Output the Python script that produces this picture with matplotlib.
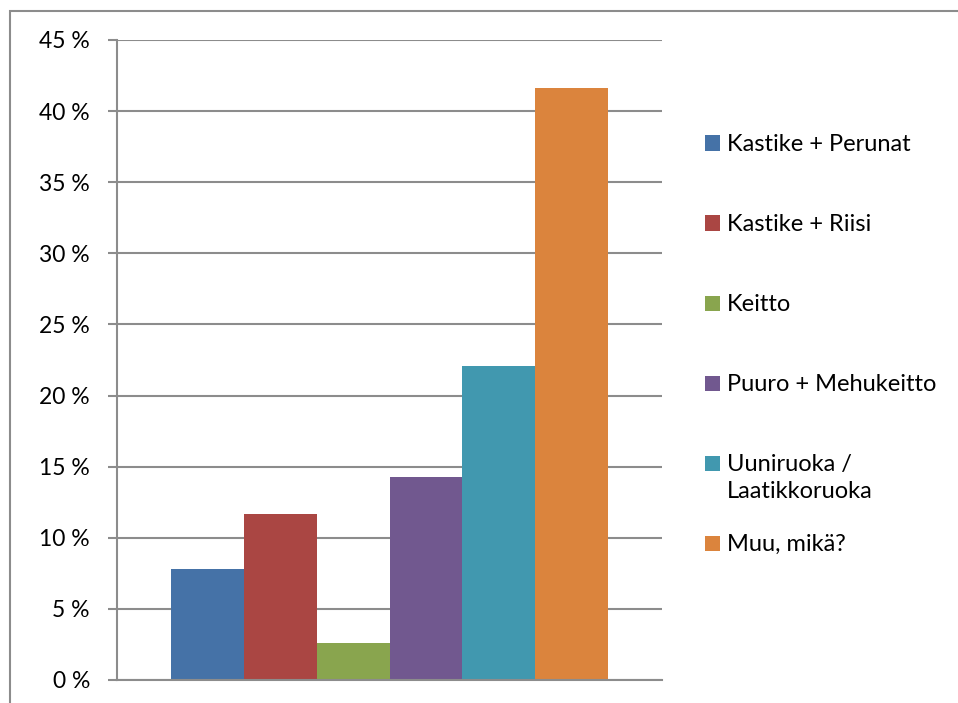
import matplotlib
matplotlib.use("Agg")
import matplotlib.pyplot as plt
from matplotlib.patches import Rectangle
from matplotlib.ticker import FuncFormatter

# Vastausvaihtoehdot ja osuudet (%)
categories = ["Kastike + Perunat", "Kastike + Riisi", "Keitto",
              "Puuro + Mehukeitto", "Uuniruoka /\nLaatikkoruoka", "Muu, mikä?"]
values = [7.8, 11.7, 2.6, 14.3, 22.1, 41.6]
colors = ["#4572A7", "#AA4643", "#89A54E", "#71588F", "#4198AF", "#DB843D"]
y_ticks = list(range(0, 46, 5))

W, H = 958, 703
fig = plt.figure(figsize=(W / 100, H / 100), dpi=100)
font = "Lato"
grid_col = "#8c8c8c"

# Outer chart frame
fig.patches.append(Rectangle((10 / W, -0.1), 1.2, (H - 11) / H + 0.1,
                             transform=fig.transFigure, fill=False,
                             edgecolor=grid_col, linewidth=1.5))

ax = fig.add_axes([117 / W, (H - 680) / H, (662 - 117) / W, (680 - 40) / H])
x = list(range(len(values)))
ax.bar(x, values, width=1.0, color=colors, linewidth=0, zorder=3)

gap = 54 / 72.8
ax.set_xlim(-0.5 - gap, len(values) - 0.5 + gap)
ax.set_ylim(0, 45)
ax.set_yticks(y_ticks)
ax.yaxis.set_major_formatter(FuncFormatter(lambda v, p: f"{v:.0f} %"))
ax.set_xticks([])
ax.grid(axis="y", color=grid_col, linewidth=1.5, zorder=0)
for s in ["top", "right"]:
    ax.spines[s].set_visible(False)
for s in ["left", "bottom"]:
    ax.spines[s].set_color(grid_col)
    ax.spines[s].set_linewidth(1.5)
    ax.spines[s].set_zorder(4)
ax.tick_params(axis="y", length=6.5, width=1.5, color=grid_col, pad=13,
               labelsize=16.5)
for lab in ax.get_yticklabels():
    lab.set_fontfamily(font)

# Legend entries down the right side
top = 143
for i, (name, col) in enumerate(zip(categories, colors)):
    yc = top + 80 * i
    fig.patches.append(Rectangle((705 / W, (H - yc - 7.5) / H), 15 / W, 15 / H,
                                 transform=fig.transFigure, facecolor=col,
                                 edgecolor="none"))
    fig.text(727 / W, (H - yc + 9) / H, name, fontsize=17, fontfamily=font,
             va="top", ha="left", linespacing=1.38)

fig.savefig("out.png", dpi=100)
